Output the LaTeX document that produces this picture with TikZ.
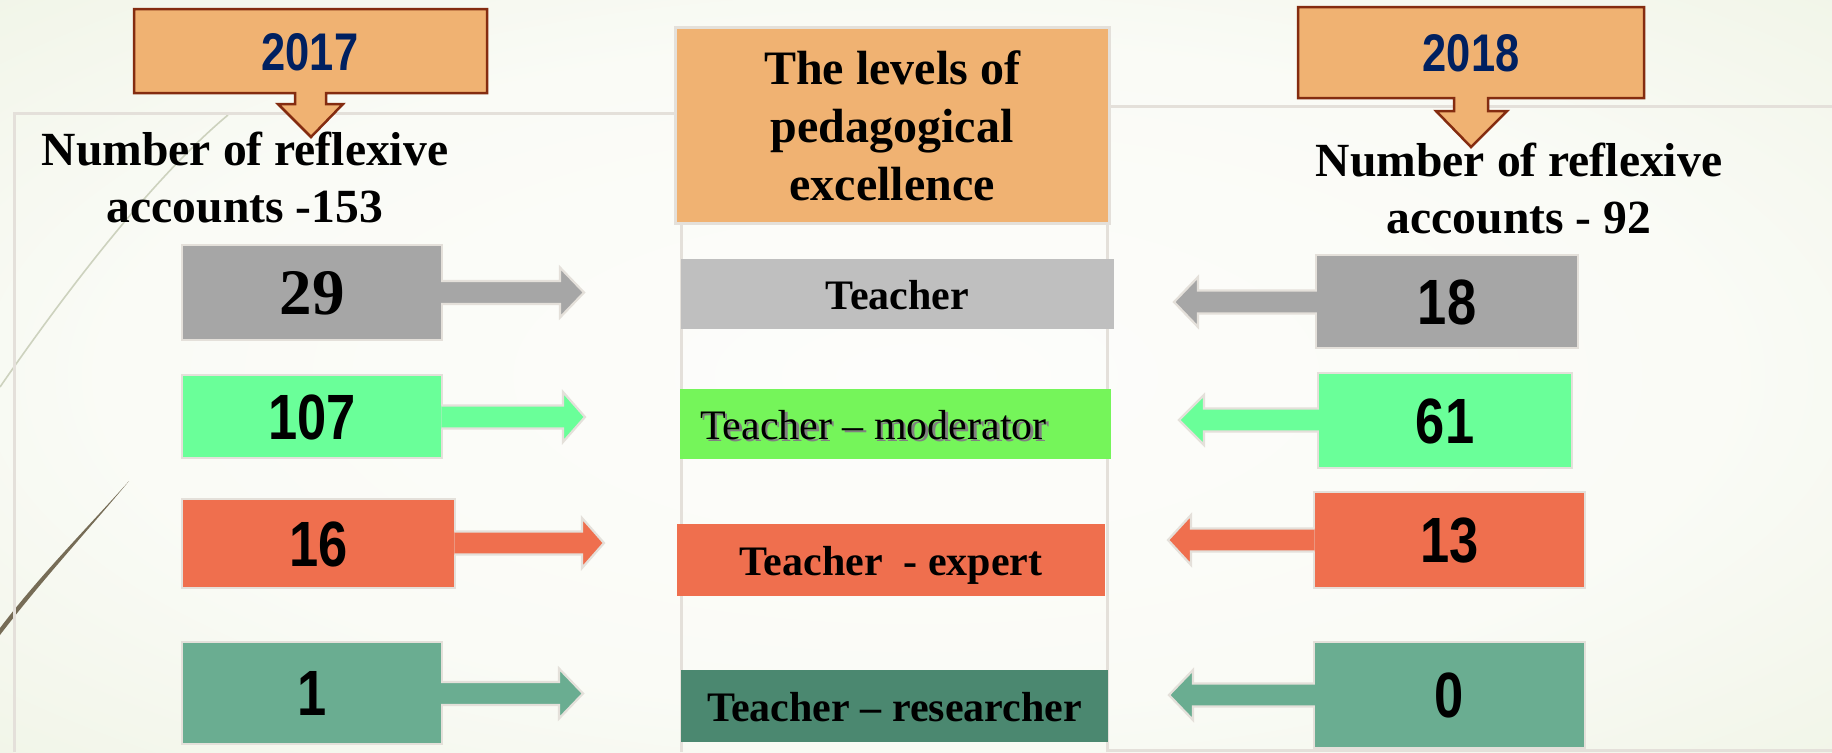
\documentclass[tikz,border=0pt]{standalone}
\usepackage{fontspec}
\setmainfont{Liberation Serif}
\newfontfamily\narrowsans[FakeStretch=0.82]{Liberation Sans}
\usetikzlibrary{calc}

\definecolor{bgL}{RGB}{232,239,218}
\definecolor{bgM}{RGB}{250,251,246}
\definecolor{bgC}{RGB}{253,253,251}
\definecolor{bgR}{RGB}{226,234,206}
\definecolor{frameC}{RGB}{228,224,218}
\definecolor{orangeC}{RGB}{240,178,114}
\definecolor{calloutEdge}{RGB}{132,44,16}
\definecolor{navyC}{RGB}{0,32,96}
\definecolor{grayBox}{RGB}{166,166,166}
\definecolor{grayBar}{RGB}{191,191,191}
\definecolor{mintBox}{RGB}{106,255,153}
\definecolor{greenBar}{RGB}{117,245,90}
\definecolor{coralC}{RGB}{239,111,78}
\definecolor{tealBox}{RGB}{106,173,145}
\definecolor{tealBar}{RGB}{75,136,112}
\definecolor{lightCurve}{RGB}{205,210,190}
\definecolor{darkCurve}{RGB}{118,108,86}

\pgfdeclareradialshading{bgshade}{\pgfpoint{0bp}{0bp}}{%
  color(0bp)=(bgC); color(22bp)=(bgM); color(50bp)=(bgL); color(72bp)=(bgR)}

% #1 start node anchor, #2 tip coordinate, #3 fill colour, #4 signed head length
\newcommand\blockarrow[4]{%
  \path[arrowpart, fill=#3] let \p1=(#1), \p2=(#2), \n1={#4} in
    ({\x1-\n1/12}, {\y2+5.75pt}) -- ({\x2-\n1}, {\y2+5.75pt}) -- ({\x2-\n1}, {\y2+12.5pt})
    -- (\x2,\y2) -- ({\x2-\n1}, {\y2-12.5pt}) -- ({\x2-\n1}, {\y2-5.75pt})
    -- ({\x1-\n1/12}, {\y2-5.75pt});
}

\tikzset{
  arrowpart/.style={draw=frameC, line width=1.1pt, line join=miter},
  numbox/.style={draw=frameC, line width=1.2pt, inner sep=0pt,
    font=\narrowsans\bfseries\fontsize{32}{36}\selectfont,
    text height=22.9pt, text depth=0pt},
  serifnum/.style={font=\bfseries\fontsize{32.5}{36}\selectfont, text height=22pt},
  levelbar/.style={inner sep=0pt, font=\bfseries\fontsize{21}{25}\selectfont,
    text height=15.1pt, text depth=0pt},
  callout/.style={fill=orangeC, draw=calloutEdge, line width=1.25pt, line join=miter},
  yeartext/.style={inner sep=0pt, text=navyC,
    font=\narrowsans\bfseries\fontsize{26.5}{30}\selectfont},
  counttext/.style={inner sep=0pt, align=center,
    font=\bfseries\fontsize{23.8}{28.5}\selectfont},
  framecol/.style={draw=frameC, line width=1.5pt}
}

\begin{document}
\begin{tikzpicture}[x=0.5pt, y=-0.5pt]
  % background
  \shade[shading=bgshade] (0,0) rectangle (1832,752);
  \useasboundingbox (0,0) rectangle (1832,752);

  % decorative curves
  \draw[lightCurve, line width=0.8pt] (0,387) .. controls (60,300) and (150,180) .. (228,115);
  \fill[darkCurve] (129,481) .. controls (90,525) and (40,575) .. (0,628)
     -- (0,635) .. controls (42,580) and (91,527) .. (129,481) -- cycle;

  % frames
  \draw[framecol] (14,752) -- (14,113) -- (681,113) -- (681,752);
  \draw[framecol] (1107,752) -- (1107,106) -- (1832,106);
  \draw[framecol] (1107,750) -- (1832,750);

  % header
  \node[fill=orangeC, draw=frameC, line width=1.5pt, minimum width=217pt, minimum height=98pt,
        inner sep=0pt] (head) at (892.5,125.5) {};
  \node[inner sep=0pt, align=center, anchor=base, font=\bfseries\fontsize{24}{29}\selectfont]
     (headtext) at (892,200) {The levels of\\pedagogical\\excellence};

  % callouts
  \draw[callout] (134,9) -- (487,9) -- (487,93) -- (326,93) -- (326,104) -- (343,104)
     -- (311,137) -- (278,104) -- (295,104) -- (295,93) -- (134,93) -- cycle;
  \node[yeartext] (y17) at (310,52) {2017};
  \draw[callout] (1298,7) -- (1644,7) -- (1644,98) -- (1488,98) -- (1488,111) -- (1507,111)
     -- (1471,147) -- (1436,111) -- (1454,111) -- (1454,98) -- (1298,98) -- cycle;
  \node[yeartext] (y18) at (1471,53) {2018};

  % count texts
  \node[counttext, anchor=base] (c17) at (245,222) {Number of reflexive\\accounts -153};
  \node[counttext, anchor=base] (c18) at (1519,233) {Number of reflexive\\accounts - 92};

  % level bars
  \node[levelbar, fill=grayBar, minimum width=216.5pt, minimum height=35pt] (T1) at (897.5,294) {Teacher};
  \node[levelbar, fill=greenBar, font=\fontsize{21}{25}\selectfont, minimum width=215.5pt, minimum height=35pt] (T2) at (895.5,424)
     {\makebox[195.5pt][l]{\makebox[0pt][l]{\hspace{1.2pt}\raisebox{-1.2pt}{\color{black!50}Teacher – moderator}}Teacher – moderator}};
  \node[levelbar, fill=coralC, minimum width=214pt, minimum height=36pt] (T3) at (891,560) {Teacher\ \ - expert};
  \node[levelbar, fill=tealBar, minimum width=213.5pt, minimum height=36pt] (T4) at (894.5,706) {Teacher – researcher};

  % number boxes left (2017)
  \node[numbox, serifnum, fill=grayBox, minimum width=130pt, minimum height=47.5pt] (L1) at (312,292.5) {29};
  \node[numbox, fill=mintBox, minimum width=130pt, minimum height=41.5pt] (L2) at (312,416.5) {107};
  \node[numbox, fill=coralC, minimum width=136.5pt, minimum height=44.5pt] (L3) at (318.5,543.5) {16};
  \node[numbox, fill=tealBox, minimum width=130pt, minimum height=51pt] (L4) at (312,693) {1};

  % number boxes right (2018)
  \node[numbox, fill=grayBox, minimum width=131pt, minimum height=46.5pt] (R1) at (1447,301.5) {18};
  \node[numbox, fill=mintBox, minimum width=127pt, minimum height=47.5pt] (R2) at (1445,420.5) {61};
  \node[numbox, fill=coralC, minimum width=135.5pt, minimum height=48pt] (R3) at (1449.5,540) {13};
  \node[numbox, fill=tealBox, minimum width=135.5pt, minimum height=53pt] (R4) at (1449.5,695) {0};

  % arrow tips
  \coordinate (la1) at (584,292.5);
  \coordinate (la2) at (585,417);
  \coordinate (la3) at (604,543);
  \coordinate (la4) at (583,693.5);
  \coordinate (ra1) at (1174,302);
  \coordinate (ra2) at (1179,420);
  \coordinate (ra3) at (1168,540);
  \coordinate (ra4) at (1169,695);

  % block arrows
  \blockarrow{L1.east}{la1}{grayBox}{12pt}
  \blockarrow{L2.east}{la2}{mintBox}{11pt}
  \blockarrow{L3.east}{la3}{coralC}{11pt}
  \blockarrow{L4.east}{la4}{tealBox}{12pt}
  \blockarrow{R1.west}{ra1}{grayBox}{-12pt}
  \blockarrow{R2.west}{ra2}{mintBox}{-12.5pt}
  \blockarrow{R3.west}{ra3}{coralC}{-11.5pt}
  \blockarrow{R4.west}{ra4}{tealBox}{-12pt}
\end{tikzpicture}
\end{document}
